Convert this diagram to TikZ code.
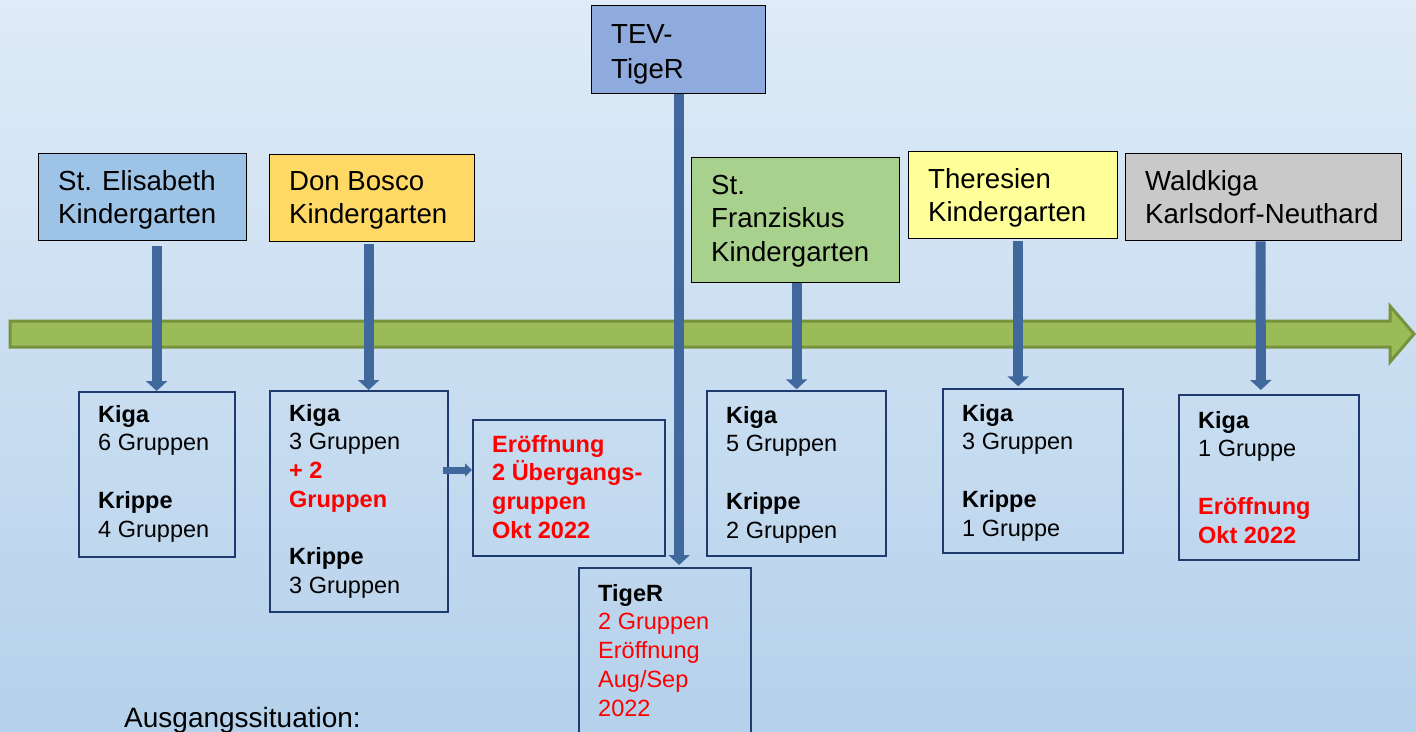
\documentclass[tikz,border=0pt]{standalone}
\usepackage{fontspec}
\setmainfont{Liberation Sans}
\usetikzlibrary{arrows.meta,calc}
\definecolor{bgtop}{HTML}{DFEBF7}
\definecolor{bgbot}{HTML}{B5D1EB}
\definecolor{cElis}{HTML}{9DC3E6}
\definecolor{cBosco}{HTML}{FFD966}
\definecolor{cTev}{HTML}{8FAADC}
\definecolor{cFranz}{HTML}{A9D18E}
\definecolor{cTher}{HTML}{FFFF99}
\definecolor{cWald}{HTML}{C9C9C9}
\definecolor{navy}{HTML}{1F3A6E}
\definecolor{arrblue}{HTML}{41689C}
\definecolor{gfill}{HTML}{9BBB59}
\definecolor{gline}{HTML}{76923C}
\definecolor{myred}{HTML}{FF0000}
\tikzset{
  titlebox/.style={draw=black, line width=1.3pt, rectangle, inner sep=0pt, anchor=north west},
  infobox/.style={draw=navy, line width=1.6pt, rectangle, inner sep=0pt, anchor=north west},
  ttext/.style={anchor=north west, inner sep=0pt, align=left, font=\fontsize{27.6}{33.5}\selectfont},
  itext/.style={anchor=north west, inner sep=0pt, align=left, font=\fontsize{23.5}{28.7}\selectfont},
  blockarrow/.style={draw=arrblue, line width=10pt, -{Triangle[width=21pt,length=10pt]}},
}
\begin{document}
\begin{tikzpicture}[x=1pt,y=-1pt]
\useasboundingbox (0,0) rectangle (1416,731);
\shade[top color=bgtop, bottom color=bgbot] (0,0) rectangle (1416,731);

% timeline arrow
\draw[fill=gfill, draw=gline, line width=3pt, line join=miter]
  (10,321) -- (1390,321) -- (1390,306) -- (1414,334) -- (1390,362) -- (1390,347) -- (10,347) -- cycle;

% title boxes
\node[titlebox, fill=cElis, minimum width=208pt, minimum height=87pt] (e) at (38,153) {};
\node[titlebox, fill=cBosco, minimum width=205pt, minimum height=87pt] (d) at (269,154) {};
\node[titlebox, fill=cTev, minimum width=174pt, minimum height=88pt] (t) at (591,5) {};
\node[titlebox, fill=cFranz, minimum width=208pt, minimum height=125pt] (f) at (691,157) {};
\node[titlebox, fill=cTher, minimum width=209pt, minimum height=87pt] (th) at (908,151) {};
\node[titlebox, fill=cWald, minimum width=276pt, minimum height=87pt] (w) at (1125,153) {};

\node[ttext] (eT) at (58,170) {St. Elisabeth\\Kindergarten};
\node[ttext] (dT) at (289,171) {Don Bosco\\Kindergarten};
\node[ttext, font=\fontsize{27.6}{35}\selectfont] (tT) at (611,24) {TEV-\\TigeR};
\node[ttext] (fT) at (711,175) {St.\\Franziskus\\Kindergarten};
\node[ttext] (thT) at (928,168) {Theresien\\Kindergarten};
\node[ttext] (wT) at (1145,170) {Waldkiga\\Karlsdorf-Neuthard};

% info boxes
\node[infobox, minimum width=156pt, minimum height=165pt] (ke) at (78,391) {};
\node[infobox, minimum width=178pt, minimum height=221pt] (kd) at (269,390) {};
\node[infobox, minimum width=192pt, minimum height=136pt] (ko) at (472,419) {};
\node[infobox, minimum width=172pt, minimum height=180pt] (kt) at (578,567) {};
\node[infobox, minimum width=179pt, minimum height=165pt] (kf) at (706,390) {};
\node[infobox, minimum width=180pt, minimum height=164pt] (kth) at (942,388) {};
\node[infobox, minimum width=180pt, minimum height=165pt] (kw) at (1178,394) {};

\node[itext] (keT) at (98,405) {\textbf{Kiga}\\6 Gruppen\\[28.7pt]\textbf{Krippe}\\4 Gruppen};
\node[itext] (kdT) at (289,404) {\textbf{Kiga}\\3 Gruppen\\\textcolor{myred}{\textbf{+ 2}}\\\textcolor{myred}{\textbf{Gruppen}}\\[28.7pt]\textbf{Krippe}\\3 Gruppen};
\node[itext, text=myred, font=\fontsize{23.5}{28.7}\selectfont\bfseries] (koT) at (492,435) {Eröffnung\\2 Übergangs-\\gruppen\\Okt 2022};
\node[itext] (ktT) at (598,584) {\textbf{TigeR}\\\textcolor{myred}{2 Gruppen}\\\textcolor{myred}{Eröffnung}\\\textcolor{myred}{Aug/Sep}\\\textcolor{myred}{2022}};
\node[itext] (kfT) at (726,406) {\textbf{Kiga}\\5 Gruppen\\[28.7pt]\textbf{Krippe}\\2 Gruppen};
\node[itext] (kthT) at (962,404) {\textbf{Kiga}\\3 Gruppen\\[28.7pt]\textbf{Krippe}\\1 Gruppe};
\node[itext] (kwT) at (1198,411) {\textbf{Kiga}\\1 Gruppe\\[28.7pt]\textcolor{myred}{\textbf{Eröffnung}}\\\textcolor{myred}{\textbf{Okt 2022}}};

\node[anchor=north west, inner sep=0pt, font=\fontsize{28}{32}\selectfont] (aus) at (124,707) {Ausgangssituation:};

% connectors
\draw[blockarrow] ($(e.south)+(14pt,5)$) -- ($(ke.north -| e.south)+(14pt,0)$);
\draw[blockarrow] ($(d.south)+(-3.5pt,2)$) -- ($(kd.north -| d.south)+(-3.5pt,0)$);
\draw[blockarrow] ($(t.south)+(0.5pt,0)$) -- ($(kt.north -| t.south)+(0.5pt,-2)$);
\draw[blockarrow] ($(f.south)+(1pt,0)$) -- ($(f.south)+(1pt,106)$);
\draw[blockarrow] ($(th.south)+(5pt,2)$) -- ($(th.south)+(5pt,147)$);
\draw[blockarrow] ($(w.south)+(-3pt,0)$) -- ($(kw.north)+(-8pt,-4)$);
\coordinate (hs) at (443,470);
\coordinate (he) at (472,470);
\draw[draw=arrblue, line width=7pt, -{Triangle[width=13pt,length=7pt]}] (hs) -- (he);
\end{tikzpicture}
\end{document}
